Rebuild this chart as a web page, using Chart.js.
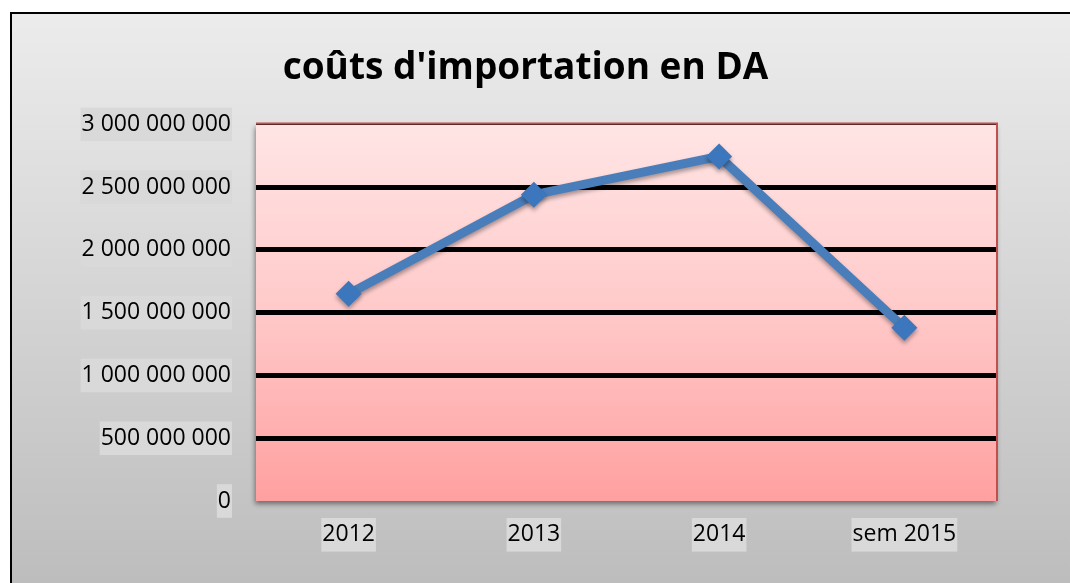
<!DOCTYPE html>
<html lang="fr">
<head>
<meta charset="UTF-8">
<title>coûts d'importation en DA</title>
<script src="https://cdn.jsdelivr.net/npm/chart.js"></script>
<style>
  html, body { margin: 0; padding: 0; background: #ffffff; }
  #wrap { width: 1070px; height: 583px; }
</style>
</head>
<body>
<div id="wrap"><canvas id="costChart" width="1070" height="583"></canvas></div>
<script>
// chart values
const years = ['2012', '2013', '2014', 'sem 2015'];
const importCosts = [1650000000, 2440000000, 2745000000, 1380000000];
const yTicks = [0, 500000000, 1000000000, 1500000000, 2000000000, 2500000000, 3000000000];

function withSpaces(v) {
  return String(v).replace(/\B(?=(\d{3})+(?!\d))/g, ' ');
}

// grey frame + pink plot area behind everything
const frameBg = {
  id: 'frameBg',
  beforeDraw(chart) {
    const ctx = chart.ctx;
    const a = chart.chartArea;
    ctx.save();
    let g = ctx.createLinearGradient(0, 12, 0, 583);
    g.addColorStop(0, '#ececec');
    g.addColorStop(1, '#bdbdbd');
    ctx.fillStyle = g;
    ctx.fillRect(10, 12, 1070, 583);
    ctx.strokeStyle = '#000000';
    ctx.lineWidth = 2;
    ctx.beginPath();
    ctx.moveTo(11, 600);
    ctx.lineTo(11, 13);
    ctx.lineTo(1080, 13);
    ctx.stroke();

    ctx.shadowColor = 'rgba(0,0,0,0.45)';
    ctx.shadowBlur = 5;
    ctx.shadowOffsetX = -1;
    ctx.shadowOffsetY = 3;
    g = ctx.createLinearGradient(0, a.top, 0, a.bottom);
    g.addColorStop(0, '#ffe5e5');
    g.addColorStop(0.5, '#ffc9c9');
    g.addColorStop(1, '#ffa0a0');
    ctx.fillStyle = g;
    ctx.fillRect(a.left, a.top, a.right - a.left, a.bottom - a.top);
    ctx.restore();
  },
  beforeDatasetsDraw(chart) {
    const ctx = chart.ctx;
    const a = chart.chartArea;
    ctx.save();
    ctx.strokeStyle = '#c0504d';
    ctx.lineWidth = 2;
    ctx.beginPath();
    ctx.moveTo(a.left, a.top - 1);
    ctx.lineTo(a.right, a.top - 1);
    ctx.lineTo(a.right, a.bottom);
    ctx.stroke();
    ctx.restore();
    ctx.save();
    ctx.shadowColor = 'rgba(0,0,0,0.35)';
    ctx.shadowBlur = 4;
    ctx.shadowOffsetY = 3;
  },
  afterDatasetsDraw(chart) {
    chart.ctx.restore();
  }
};

new Chart(document.getElementById('costChart'), {
  type: 'line',
  data: {
    labels: years,
    datasets: [{
      label: "coûts d'importation",
      data: importCosts,
      borderColor: '#4a7ebb',
      borderWidth: 9,
      backgroundColor: '#3c76bd',
      pointStyle: 'rectRot',
      pointRadius: 13,
      pointBorderWidth: 0,
      pointBackgroundColor: '#3c76bd',
      tension: 0,
      fill: false
    }]
  },
  options: {
    responsive: false,
    animation: false,
    events: [],
    layout: { padding: { left: 54, right: 73, top: 0, bottom: 0 } },
    plugins: {
      legend: { display: false },
      tooltip: { enabled: false },
      title: {
        display: true,
        text: "coûts d'importation en DA",
        color: '#000000',
        font: { family: 'Open Sans', size: 37, weight: 'bold', lineHeight: 1.2 },
        padding: { top: 46, bottom: 34 }
      }
    },
    scales: {
      x: {
        offset: true,
        border: { display: false },
        grid: { display: false, drawTicks: false },
        ticks: {
          color: '#000000',
          padding: 20,
          font: { family: 'Open Sans', size: 23 },
          showLabelBackdrop: true,
          backdropColor: '#d9d9d9',
          backdropPadding: { x: 1, y: 3 }
        },
        afterFit(scale) { scale.height = 82; }
      },
      y: {
        min: 0,
        max: 3000000000,
        border: { display: false },
        afterBuildTicks(scale) { scale.ticks = yTicks.map(v => ({ value: v })); },
        grid: {
          drawTicks: false,
          color: '#000000',
          lineWidth(c) {
            if (c.tick.value === 0) return 0;
            if (c.tick.value === 3000000000) return 2;
            return 5;
          }
        },
        ticks: {
          color: '#000000',
          padding: 25,
          font: { family: 'Open Sans', size: 23 },
          showLabelBackdrop: true,
          backdropColor: '#d9d9d9',
          backdropPadding: { x: 1, y: 3 },
          callback: v => withSpaces(v)
        },
        afterFit(scale) { scale.width = 202; }
      }
    }
  },
  plugins: [frameBg]
});
</script>
</body>
</html>
